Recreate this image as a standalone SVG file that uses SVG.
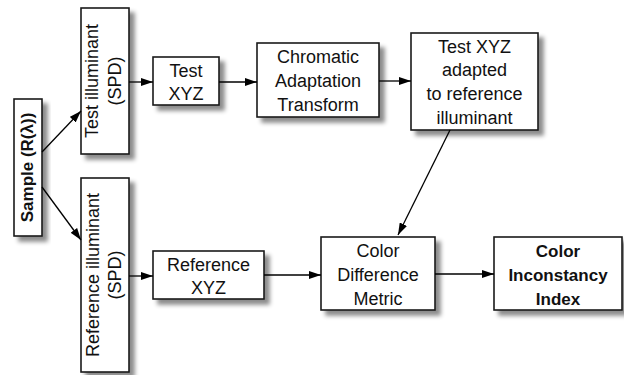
<svg xmlns="http://www.w3.org/2000/svg" width="624" height="375" viewBox="0 0 624 375">
<defs>
<filter id="sh" x="-20%" y="-20%" width="150%" height="150%">
<feDropShadow dx="5" dy="5" stdDeviation="2" flood-color="#000" flood-opacity="0.45"/>
</filter>
<marker id="ah" viewBox="0 0 12 8" refX="12" refY="4" markerWidth="12" markerHeight="8" markerUnits="userSpaceOnUse" orient="auto">
<path d="M0,0 L12,4 L0,8 Z" fill="#000"/>
</marker>
</defs>
<style>
rect{fill:#fff;stroke:#1a1a1a;stroke-width:1.6;filter:url(#sh)}
text{font-family:"Liberation Sans",Arial,sans-serif;font-size:18px;fill:#111;text-anchor:middle}
.b{font-weight:bold;font-size:17px}
.c line{stroke:#000;stroke-width:1.3;marker-end:url(#ah)}
</style>
<g id="sample"><rect x="14" y="99" width="28" height="137"/><text class="b" transform="translate(33,167.5) rotate(-90)">Sample (R(λ))</text></g>
<g id="test-illuminant"><rect x="81" y="8" width="48" height="146"/><text transform="translate(98,81) rotate(-90)">Test illuminant</text><text transform="translate(121,81) rotate(-90)">(SPD)</text></g>
<g id="reference-illuminant"><rect x="81" y="178" width="48" height="194"/><text transform="translate(99,275) rotate(-90)">Reference illuminant</text><text transform="translate(121,275) rotate(-90)">(SPD)</text></g>
<g id="test-xyz"><rect x="153" y="57" width="66" height="48"/><text x="186" y="77">Test</text><text x="186" y="100">XYZ</text></g>
<g id="cat"><rect x="257" y="43" width="122" height="74"/><text x="318" y="63">Chromatic</text><text x="318" y="87">Adaptation</text><text x="318" y="111">Transform</text></g>
<g id="test-adapted"><rect x="411" y="33" width="127" height="97"/><text x="474.5" y="53">Test XYZ</text><text x="474.5" y="76">adapted</text><text x="474.5" y="100">to reference</text><text x="474.5" y="124">illuminant</text></g>
<g id="reference-xyz"><rect x="153" y="251" width="111" height="48"/><text x="208.5" y="271">Reference</text><text x="208.5" y="294">XYZ</text></g>
<g id="color-difference"><rect x="321" y="237" width="114" height="73"/><text x="378" y="257">Color</text><text x="378" y="281">Difference</text><text x="378" y="305">Metric</text></g>
<g id="inconstancy-index"><rect x="494" y="237" width="128" height="73"/><text class="b" x="558" y="257">Color</text><text class="b" x="558" y="281">Inconstancy</text><text class="b" x="558" y="305">Index</text></g>
<g class="c" id="connectors">
<line x1="42" y1="152" x2="81" y2="111"/>
<line x1="42" y1="187" x2="81" y2="240"/>
<line x1="129" y1="82" x2="153" y2="82"/>
<line x1="219" y1="82" x2="257" y2="82"/>
<line x1="379" y1="81" x2="411" y2="81"/>
<line x1="450" y1="130" x2="398" y2="235"/>
<line x1="129" y1="276" x2="153" y2="276"/>
<line x1="264" y1="275" x2="321" y2="275"/>
<line x1="435" y1="274" x2="494" y2="274"/>
</g>
</svg>
